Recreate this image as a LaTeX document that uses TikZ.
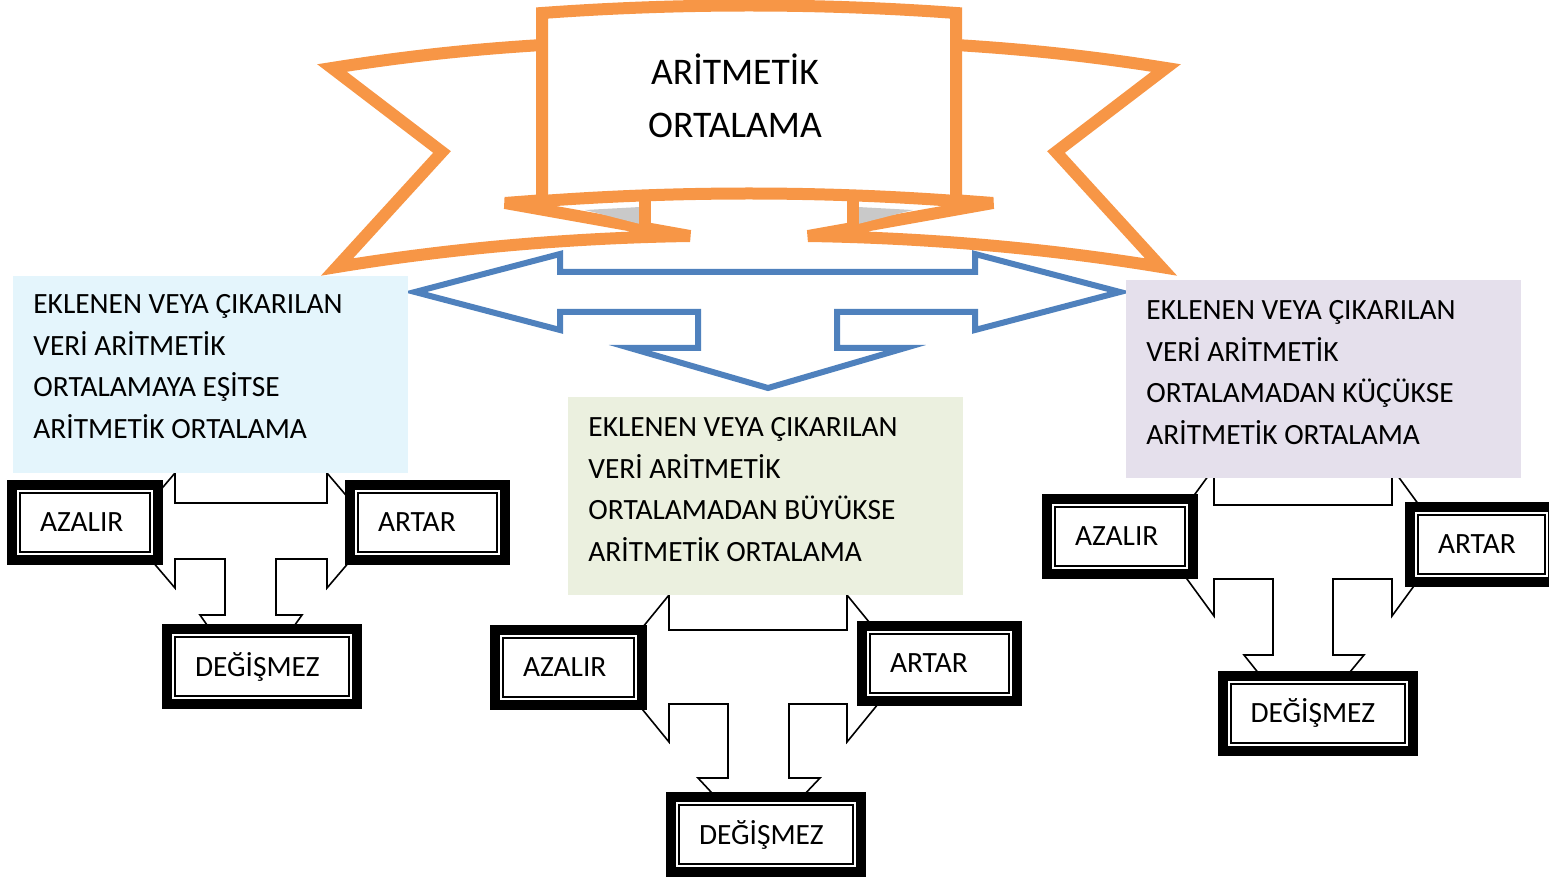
\documentclass[tikz,border=0pt]{standalone}
\usepackage{fontspec}
\setmainfont{Carlito}
\definecolor{turuncu}{HTML}{F79646}
\definecolor{mavi}{HTML}{4F81BD}
\definecolor{acikmavi}{HTML}{E4F5FC}
\definecolor{acikyesil}{HTML}{EBF0DF}
\definecolor{acikmor}{HTML}{E5E0EC}
\definecolor{katgri}{HTML}{C9C9C9}
\begin{document}
\begin{tikzpicture}[x=0.5pt,y=-0.5pt,
    font=\fontsize{14.7}{20.8}\selectfont,
    serit/.style={draw=turuncu, line width=6pt, fill=white, line join=miter, miter limit=4},
    maviok/.style={draw=mavi, line width=3pt, fill=white, line join=miter},
    ucluok/.style={draw=black, line width=0.8pt, fill=white},
    bilgikutu/.style={anchor=north west, inner sep=0pt},
    bilgi/.style={anchor=north west, inner sep=0pt, align=left},
    sonuc/.style={draw, line width=5pt, fill=white, inner xsep=14pt,
        minimum height=37.5pt, text width=#1, align=left,
        path picture={\draw[line width=1pt]
            ([shift={(4pt,4pt)}]path picture bounding box.south west) rectangle
            ([shift={(-4pt,-4pt)}]path picture bounding box.north east);}}]
    \useasboundingbox (0,0) rectangle (1549,882);
    % kurdele
    \draw[serit] (542,45) .. controls (460,50) and (395,58) .. (332,68) -- (442,152) -- (337,267)
        .. controls (440,250) and (560,238) .. (690,236) -- (505,203) -- (545,200) -- cycle;
    \fill[katgri] (585,210) -- (640,207) -- (640,224) -- cycle;
    \draw[turuncu, line width=6pt] (645,201) -- (645,234);
    \draw[serit] (956,45) .. controls (1038,50) and (1103,58) .. (1166,68) -- (1056,152) -- (1161,267)
        .. controls (1058,250) and (938,238) .. (808,236) -- (993,203) -- (953,200) -- cycle;
    \fill[katgri] (913,210) -- (858,207) -- (858,224) -- cycle;
    \draw[turuncu, line width=6pt] (853,201) -- (853,234);
    \draw[serit] (542,13) .. controls (680,3) and (818,3) .. (956,13) -- (956,201)
        .. controls (818,191) and (680,191) .. (542,201) -- cycle;
    \node[align=center, inner sep=0pt, font=\fontsize{18.8}{26.5}\selectfont] (baslik) at (735,96) {ARİTMETİK\\ORTALAMA};
    % mavi ok
    \draw[maviok] (415,292) -- (560,254) -- (560,272) -- (975,272) -- (975,254) -- (1120,292)
        -- (975,330) -- (975,312) -- (837,312) -- (837,348) -- (905,348) -- (768,388)
        -- (630,348) -- (698,348) -- (698,312) -- (560,312) -- (560,330) -- cycle;
    % siyah oklar
    \draw[ucluok] (126,530.5) -- (175,473) -- (175,503) -- (327,503) -- (327,473) -- (376,530.5)
        -- (327,588) -- (327,559) -- (276,559) -- (276,615) -- (302,615) -- (250.5,687)
        -- (200,615) -- (225,615) -- (225,559) -- (175,559) -- (175,588) -- cycle;
    \draw[ucluok] (609,668.5) -- (669,595) -- (669,630) -- (847,630) -- (847,595) -- (907,668.5)
        -- (847,742) -- (847,704) -- (789,704) -- (789,778) -- (820,778) -- (758.5,843)
        -- (698,778) -- (728,778) -- (728,704) -- (669,704) -- (669,742) -- cycle;
    \draw[ucluok] (1160,542) -- (1214,468) -- (1214,505) -- (1392,505) -- (1392,468) -- (1446,542)
        -- (1392,616) -- (1392,579) -- (1333,579) -- (1333,655) -- (1364,655) -- (1303,729)
        -- (1244,655) -- (1273,655) -- (1273,579) -- (1214,579) -- (1214,616) -- cycle;
    % bilgi kutulari
    \node[bilgikutu, fill=acikmavi, minimum width=197.5pt, minimum height=98.5pt] (solkutu) at (13,276) {};
    \node[bilgi] (solyazi) at (33,294) {EKLENEN VEYA ÇIKARILAN\\VERİ ARİTMETİK\\ORTALAMAYA EŞİTSE\\ARİTMETİK ORTALAMA};
    \node[bilgikutu, fill=acikyesil, minimum width=197.5pt, minimum height=99pt] (ortakutu) at (568,397) {};
    \node[bilgi] (ortayazi) at (588,417) {EKLENEN VEYA ÇIKARILAN\\VERİ ARİTMETİK\\ORTALAMADAN BÜYÜKSE\\ARİTMETİK ORTALAMA};
    \node[bilgikutu, fill=acikmor, minimum width=197.5pt, minimum height=99pt] (sagkutu) at (1126,280) {};
    \node[bilgi] (sagyazi) at (1146,300) {EKLENEN VEYA ÇIKARILAN\\VERİ ARİTMETİK\\ORTALAMADAN KÜÇÜKSE\\ARİTMETİK ORTALAMA};
    % sonuc kutulari
    \node[sonuc=45pt] (sol-azalir) at (85,522.5) {AZALIR};
    \node[sonuc=49.5pt] (sol-artar) at (427.5,522.5) {ARTAR};
    \node[sonuc=67pt] (sol-degismez) at (262,666.5) {DEĞİŞMEZ};
    \node[sonuc=45.5pt] (orta-azalir) at (568.5,667.5) {AZALIR};
    \node[sonuc=49.5pt] (orta-artar) at (939.5,663.5) {ARTAR};
    \node[sonuc=67pt] (orta-degismez) at (766,834.5) {DEĞİŞMEZ};
    \node[sonuc=45pt] (sag-azalir) at (1120,536.5) {AZALIR};
    \node[sonuc=43.5pt] (sag-artar) at (1481.5,544.5) {ARTAR};
    \node[sonuc=67pt] (sag-degismez) at (1317.5,713) {DEĞİŞMEZ};
\end{tikzpicture}
\end{document}
